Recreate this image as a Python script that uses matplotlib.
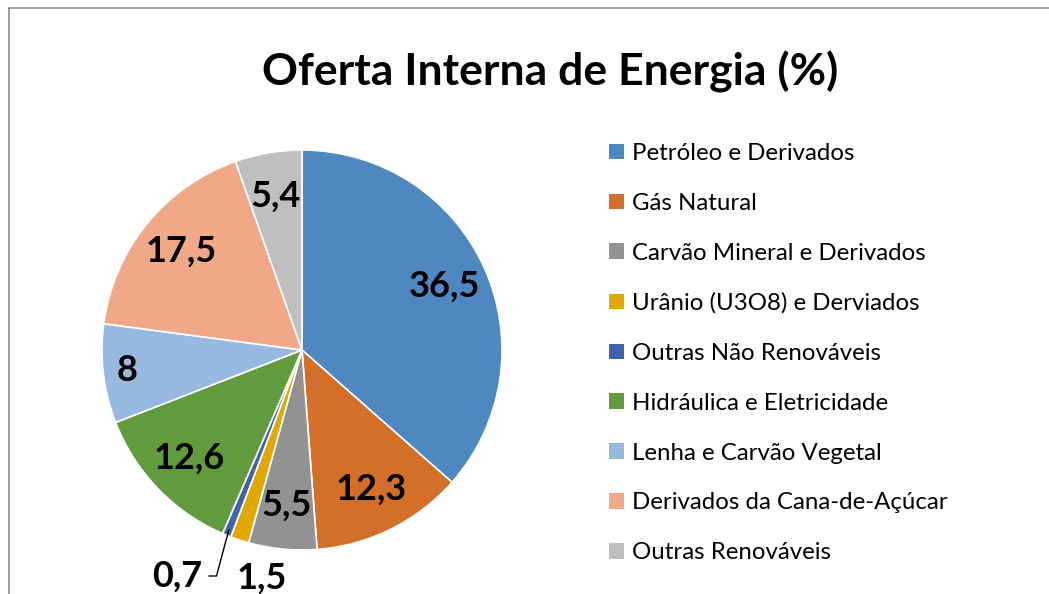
import numpy as np
import matplotlib.pyplot as plt
from matplotlib.patches import Rectangle
from matplotlib.lines import Line2D

plt.rcParams['font.family'] = ['Lato', 'DejaVu Sans']

# data
categories = ['Petróleo e Derivados', 'Gás Natural', 'Carvão Mineral e Derivados',
              'Urânio (U3O8) e Derviados', 'Outras Não Renováveis',
              'Hidráulica e Eletricidade', 'Lenha e Carvão Vegetal',
              'Derivados da Cana-de-Açúcar', 'Outras Renováveis']
values = [36.5, 12.3, 5.5, 1.5, 0.7, 12.6, 8, 17.5, 5.4]
value_labels = ['36,5', '12,3', '5,5', '1,5', '0,7', '12,6', '8', '17,5', '5,4']
colors = ['#4F88C0', '#D46F2A', '#929292', '#E2A800', '#3E64AE',
          '#629A3E', '#97B9E0', '#F1A889', '#BFBFBF']

W, H = 1049, 594
fig = plt.figure(figsize=(W / 100, H / 100), dpi=100)

# pie axes: centre (302, 350) px, radius 200 px
ax = fig.add_axes([(302 - 200) / W, (H - 550) / H, 400 / W, 400 / H])
wedges, _ = ax.pie(values, colors=colors, startangle=90, counterclock=False,
                   wedgeprops=dict(linewidth=1.2, edgecolor='white'))
ax.set_xlim(-1, 1)
ax.set_ylim(-1, 1)

# value labels
lab_size = 26
for i, (w, lab) in enumerate(zip(wedges, value_labels)):
    ang = np.deg2rad((w.theta1 + w.theta2) / 2)
    if values[i] < 1:
        edge = (np.cos(ang) * 0.97, np.sin(ang) * 0.97)
        ax.annotate(lab, xy=edge, xytext=(-0.5, -1.13), fontsize=lab_size, fontweight='bold',
                    ha='right', va='center',
                    arrowprops=dict(arrowstyle='-', color='black', lw=1,
                                    connectionstyle='angle,angleA=0,angleB=75,rad=0',
                                    shrinkA=3, shrinkB=0))
    elif values[i] < 3:
        ax.text(-0.2, -1.14, lab, fontsize=lab_size, fontweight='bold', ha='center', va='center')
    else:
        d = 0.88 if values[i] < 10 and values[i] > 7 else 0.78
        ax.text(np.cos(ang) * d, np.sin(ang) * d, lab, fontsize=lab_size,
                fontweight='bold', ha='center', va='center')

# title
fig.text(550 / W, 1 - 72 / H, 'Oferta Interna de Energia (%)', fontsize=32,
         fontweight='bold', ha='center', va='center')

# legend
handles = [Rectangle((0, 0), 1, 1, facecolor=c, edgecolor='none') for c in colors]
fig.legend(handles, categories, loc='upper left', bbox_to_anchor=(609 / W, 1 - 143 / H),
           frameon=False, fontsize=17.3, handlelength=0.62, handleheight=0.62,
           handletextpad=0.35, labelspacing=1.2, borderaxespad=0, borderpad=0)

# chart border (top and left visible)
fig.add_artist(Line2D([9 / W, 1], [1 - 8 / H, 1 - 8 / H], color='#8C8C8C', lw=1.2,
                      transform=fig.transFigure))
fig.add_artist(Line2D([9 / W, 9 / W], [0, 1 - 8 / H], color='#8C8C8C', lw=1.2,
                      transform=fig.transFigure))

plt.savefig('out.png', dpi=100)
plt.close()
